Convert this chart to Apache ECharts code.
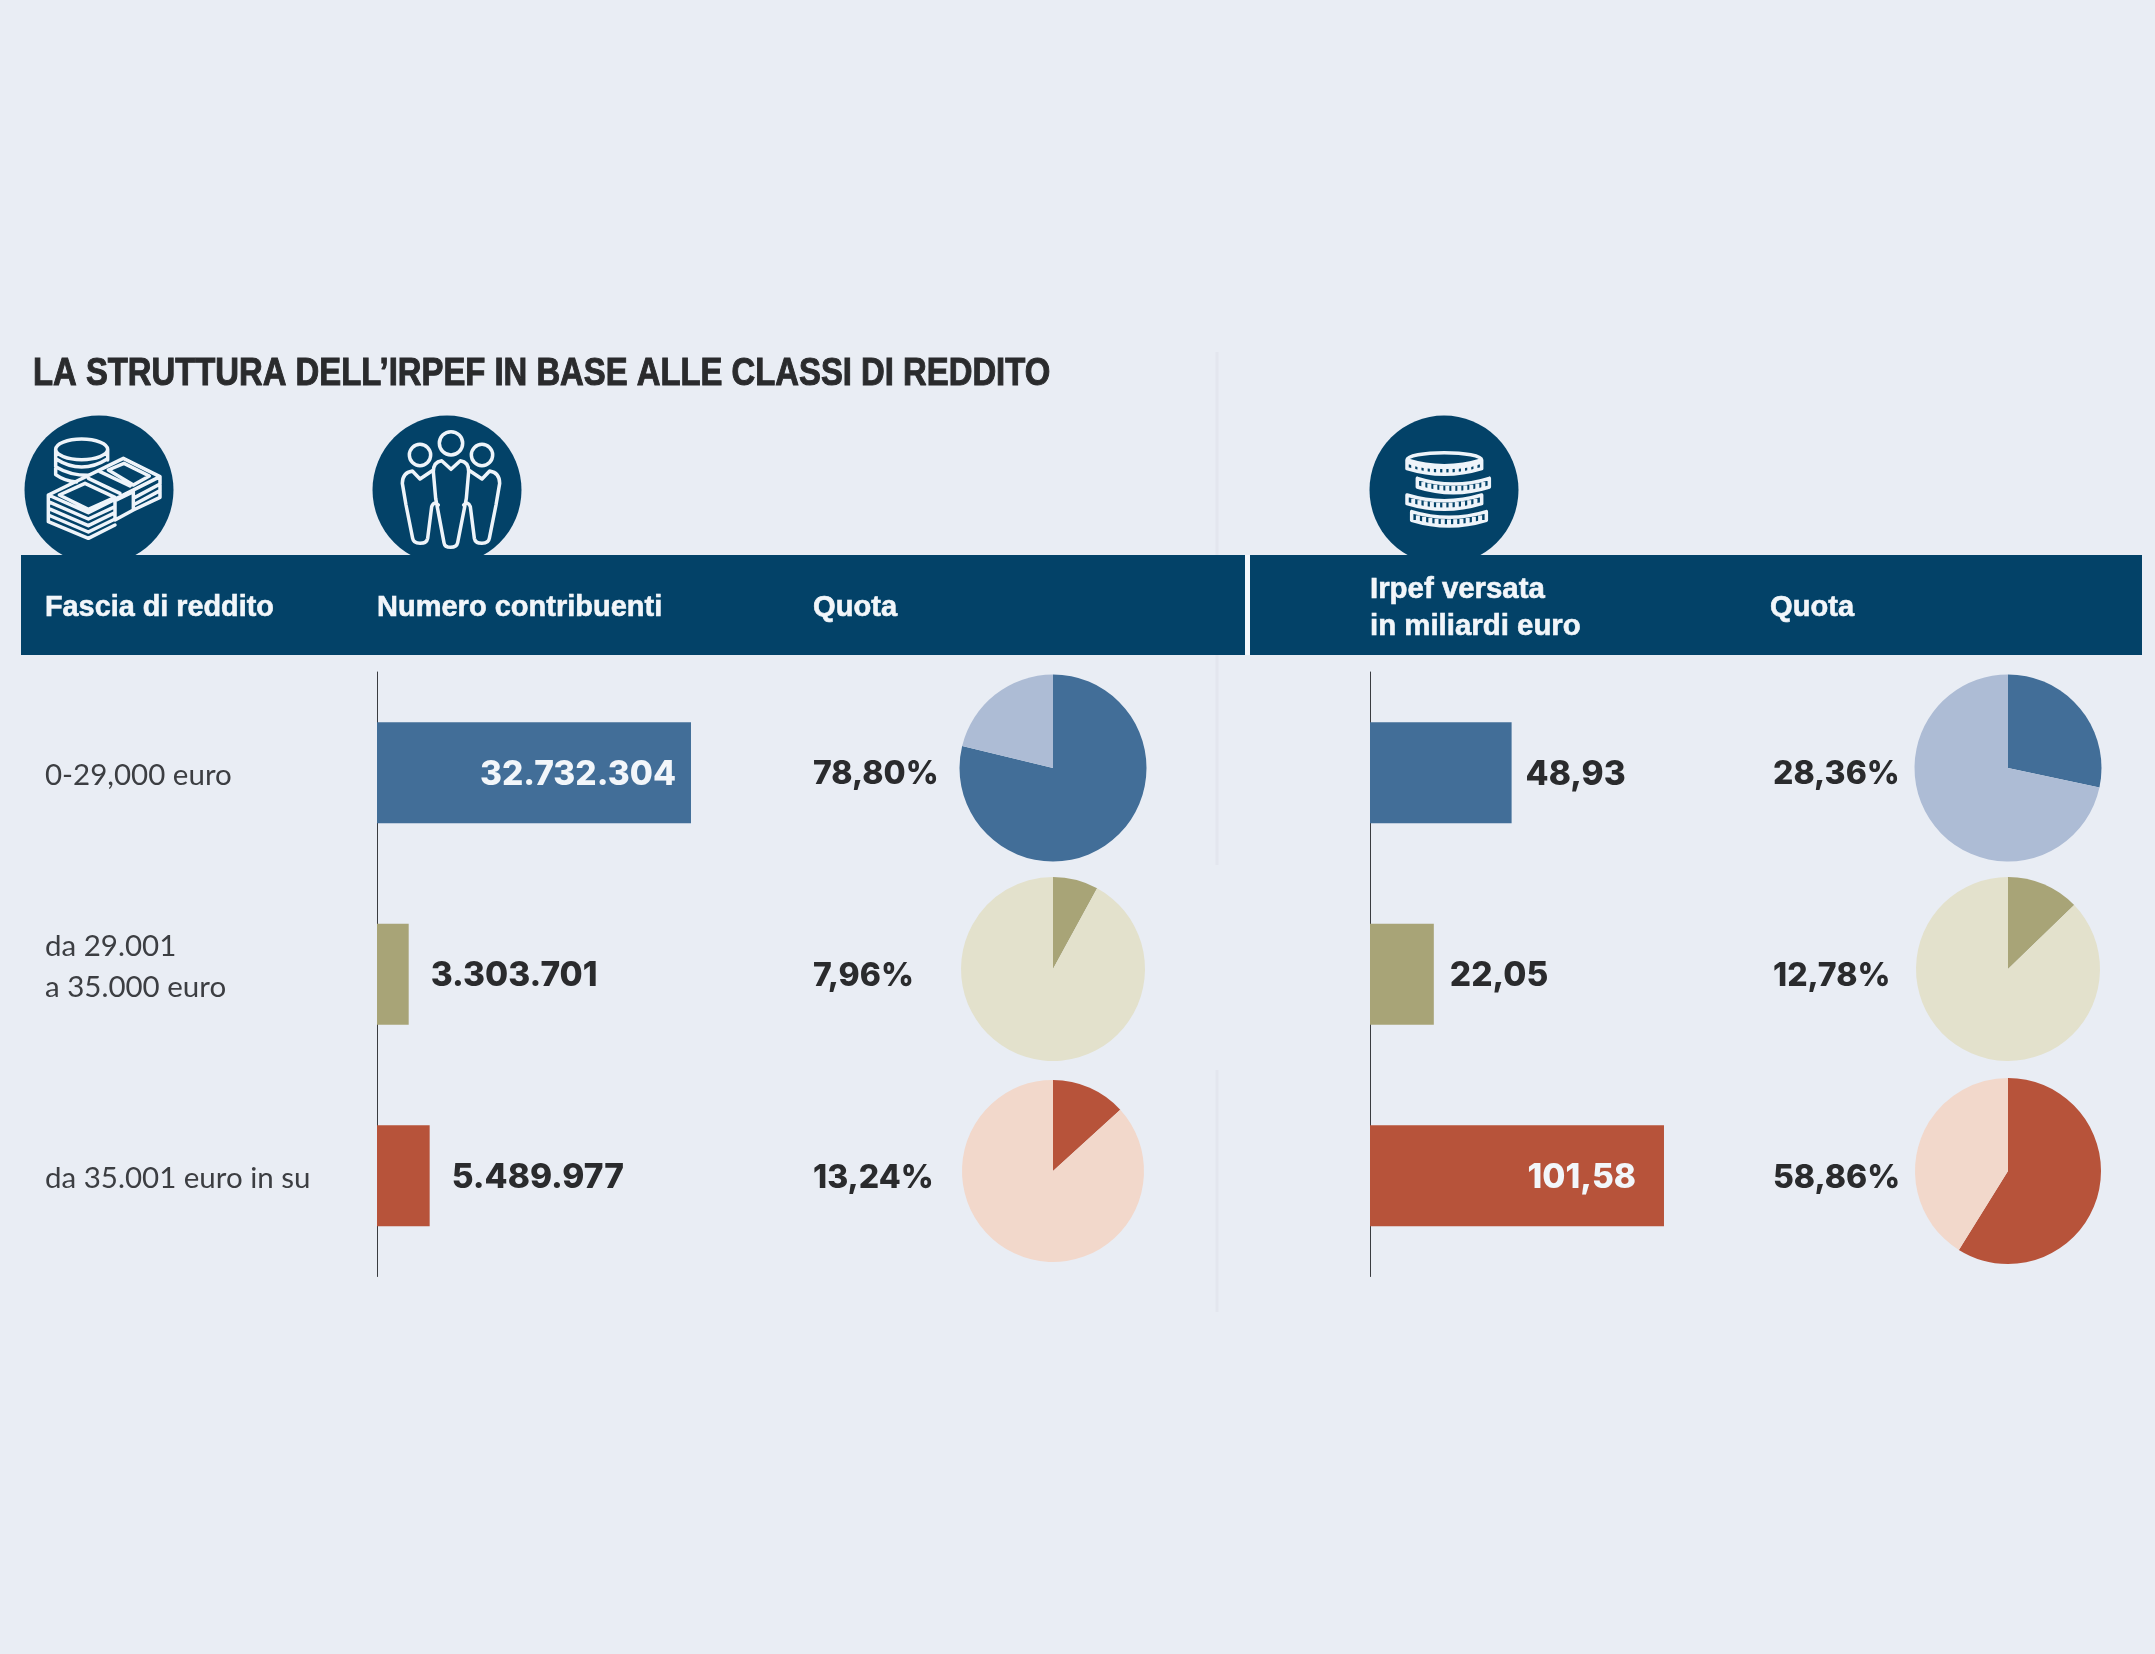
<!DOCTYPE html>
<html>
<head>
<meta charset="utf-8">
<title>Irpef</title>
<script src="https://cdn.jsdelivr.net/npm/echarts@6/dist/echarts.min.js"></script>
<style>
  html, body { margin: 0; padding: 0; background: #e9edf4; }
  #main { width: 2155px; height: 1654px; }
</style>
</head>
<body>
<div id="main"></div>
<script>
var fasce = ["0-29,000 euro", "da 29.001\na 35.000 euro", "da 35.001 euro in su"];
var contribuenti = [32732304, 3303701, 5489977];
var quotaContribuenti = [78.80, 7.96, 13.24];
var restoContribuenti = [21.20, 92.04, 86.76];
var irpef = [48.93, 22.05, 101.58];
var quotaIrpef = [28.36, 12.78, 58.86];
var restoIrpef = [71.64, 87.22, 41.14];

var barColors = ["#426e98", "#a8a477", "#b7533a"];
var lightColors = ["#adbcd5", "#e3e1cc", "#f2d8cb"];

var SANS = '"Liberation Sans", sans-serif';
var HEAVY = 'Inter, "DejaVu Sans", sans-serif';
var DARK = "#2a2b2d";
var NAVY = "#034268";
var PALE = "#f2f6fa";

var chart = echarts.init(document.getElementById("main"));

// y centre of the pies and of the quota labels
var pieY = [768, 969, 1171];
var quotaY = [774, 976, 1178];

function numLabel(position, color, distance) {
  return {
    show: true,
    position: position,
    distance: distance,
    offset: [0, 2],
    color: color,
    fontFamily: HEAVY,
    fontWeight: 800,
    fontSize: 33.5
  };
}

function pieSeries(cx, radii, shares, rests) {
  return shares.map(function (s, i) {
    return {
      type: "pie",
      silent: true,
      center: [cx, pieY[i]],
      radius: radii[i],
      startAngle: 90,
      label: { show: false },
      labelLine: { show: false },
      data: [
        { value: s, itemStyle: { color: barColors[i] } },
        { value: rests[i], itemStyle: { color: lightColors[i] } }
      ]
    };
  });
}

// condensed heading text: no narrow font installed, so squeeze with scaleX
function txt(text, x, y, font, color, scaleX, stroke, lineHeight) {
  return {
    type: "text",
    z: 5,
    x: x,
    y: y,
    scaleX: scaleX,
    style: {
      text: text,
      fill: color,
      stroke: color,
      lineWidth: stroke,
      font: font,
      lineHeight: lineHeight,
      verticalAlign: "middle",
      align: "left"
    }
  };
}

function pct(v) {
  return v.toFixed(2).replace(".", ",") + "%";
}

var billsPath =
  "M107 118 A78 31 0 1 0 263 118 A78 31 0 1 0 107 118 Z " +
  "M107 118 V192 M263 118 V150 " +
  "M107 146 Q185 196 263 146 M107 170 Q150 196 205 196 M107 194 Q135 214 170 216 " +
  "M85 255 L310 145 L420 200 L205 308 Z " +
  "M118 255 L195 220 L285 262 L205 298 Z " +
  "M265 180 L312 160 L388 198 L340 225 Z " +
  "M205 205 L300 250 M240 185 L330 228 " +
  "M285 272 L340 245 L340 300 L285 330 Z " +
  "M85 255 V335 L205 385 L285 345 M340 300 L420 262 V200 " +
  "M85 275 L205 327 L285 290 M85 295 L205 347 L285 308 M85 315 L205 366 L285 327 " +
  "M345 262 L420 222 M345 282 L420 242";

var peoplePath =
  "M208 100 A35 35 0 1 0 278 100 A35 35 0 1 0 208 100 Z " +
  "M118 135 A32 32 0 1 0 182 135 A32 32 0 1 0 118 135 Z " +
  "M304 135 A32 32 0 1 0 368 135 A32 32 0 1 0 304 135 Z " +
  "M243 178 L215 152 Q190 155 190 185 L197 265 L222 398 Q224 412 242 412 Q260 412 263 398 L289 265 L296 185 Q296 155 271 152 Z " +
  "M150 207 L127 183 Q97 188 97 220 L108 285 L128 385 Q130 400 150 400 Q170 400 173 385 L185 290 Q192 272 205 285 " +
  "M150 207 L190 180 " +
  "M336 207 L359 183 Q389 188 389 220 L378 285 L358 385 Q356 400 336 400 Q316 400 313 385 L301 290 Q294 272 281 285 " +
  "M336 207 L296 180";

// cx, top y, half width of each coin in the stack
var coinStack = [
  [238, 150, 112],
  [265, 205, 108],
  [238, 255, 112],
  [252, 305, 112]
];

function coinsPath() {
  var d = "";
  coinStack.forEach(function (c, i) {
    var cx = c[0], y = c[1], rx = c[2], h = 26;
    if (i === 0) {
      d += "M" + (cx - rx) + " " + y + " A" + rx + " 22 0 1 1 " + (cx + rx) + " " + y + " A" + rx + " 22 0 1 1 " + (cx - rx) + " " + y + " ";
    }
    d += "M" + (cx - rx) + " " + y + " V" + (y + h) + " Q" + cx + " " + (y + h + 34) + " " + (cx + rx) + " " + (y + h) + " V" + y + " ";
    d += "M" + (cx - rx) + " " + y + " Q" + cx + " " + (y + 34) + " " + (cx + rx) + " " + y + " ";
  });
  return d;
}

function coinsTicks() {
  var out = [];
  coinStack.forEach(function (c) {
    for (var k = -5; k <= 5; k++) {
      var x = c[0] + k * c[2] / 6;
      var dy = 17 * (1 - (k * k) / 36);
      out.push({
        type: "line",
        z: 3,
        shape: { x1: x, y1: c[1] + dy + 6, x2: x, y2: c[1] + dy + 24 },
        style: { stroke: "#eef4fa", lineWidth: 12 }
      });
    }
  });
  return out;
}

echarts.graphic.registerShape("iconBills", echarts.graphic.extendPath(billsPath, {}));
echarts.graphic.registerShape("iconPeople", echarts.graphic.extendPath(peoplePath, {}));
echarts.graphic.registerShape("iconCoins", echarts.graphic.extendPath(coinsPath(), {}));

// icons are drawn in a 3x box and scaled down
function iconGroup(x, y, shapeName, extra) {
  return {
    type: "group",
    x: x,
    y: y,
    scaleX: 1 / 3,
    scaleY: 1 / 3,
    children: [
      {
        type: shapeName,
        z: 3,
        style: { fill: "none", stroke: "#eef4fa", lineWidth: 10.5, lineJoin: "round", lineCap: "round" }
      }
    ].concat(extra || [])
  };
}

function circle(cx) {
  return {
    type: "circle",
    z: 1,
    shape: { cx: cx, cy: 490, r: 74.5 },
    style: { fill: NAVY }
  };
}

function band(x, width) {
  return {
    type: "rect",
    z: 2,
    shape: { x: x, y: 555, width: width, height: 100 },
    style: { fill: NAVY }
  };
}

// blank spacer lines nudge the labels: single lines down, the two-line one up
function fasciaLabel(value) {
  var lines = value.split("\n");
  var text = lines.map(function (l) { return "{t|" + l + "}"; }).join("\n");
  return lines.length > 1 ? text + "\n{up| }" : "{down| }\n" + text;
}

var HEAD = "bold 30px " + SANS;
var QUOTA = "800 32px " + HEAVY;

var option = {
  animation: false,
  backgroundColor: "#e9edf4",
  grid: [
    { left: 377, top: 672, width: 383.7, height: 604.5, outerBoundsMode: "none" },
    { left: 1370, top: 672, width: 347.3, height: 604.5, outerBoundsMode: "none" }
  ],
  xAxis: [
    { type: "value", gridIndex: 0, min: 0, max: 40000000, show: false },
    { type: "value", gridIndex: 1, min: 0, max: 120, show: false }
  ],
  yAxis: [
    {
      type: "category",
      gridIndex: 0,
      inverse: true,
      data: fasce,
      axisLine: { lineStyle: { color: "#3a3c40", width: 1 } },
      axisTick: { show: false },
      axisLabel: {
        align: "left",
        margin: 332,
        formatter: fasciaLabel,
        rich: {
          t: { color: "#3c3e42", fontFamily: "Lato, sans-serif", fontSize: 29.5, lineHeight: 41 },
          up: { fontSize: 10, lineHeight: 14 },
          down: { fontSize: 6, lineHeight: 6 }
        }
      }
    },
    {
      type: "category",
      gridIndex: 1,
      inverse: true,
      data: fasce,
      axisLine: { lineStyle: { color: "#3a3c40", width: 1 } },
      axisTick: { show: false },
      axisLabel: { show: false }
    }
  ],
  series: [
    {
      type: "bar",
      xAxisIndex: 0,
      yAxisIndex: 0,
      barWidth: 101,
      silent: true,
      itemStyle: { color: function (p) { return barColors[p.dataIndex]; } },
      label: {
        formatter: function (p) { return String(p.value).replace(/\B(?=(\d{3})+$)/g, "."); }
      },
      data: [
        { value: contribuenti[0], label: numLabel("insideRight", PALE, 15) },
        { value: contribuenti[1], label: numLabel("right", DARK, 22) },
        { value: contribuenti[2], label: numLabel("right", DARK, 22) }
      ]
    },
    {
      type: "bar",
      xAxisIndex: 1,
      yAxisIndex: 1,
      barWidth: 101,
      silent: true,
      itemStyle: { color: function (p) { return barColors[p.dataIndex]; } },
      label: {
        formatter: function (p) { return p.value.toFixed(2).replace(".", ","); }
      },
      data: [
        { value: irpef[0], label: numLabel("right", DARK, 14) },
        { value: irpef[1], label: numLabel("right", DARK, 16) },
        { value: irpef[2], label: numLabel("insideRight", PALE, 28) }
      ]
    }
  ]
    .concat(pieSeries(1053, [93.5, 92, 91], quotaContribuenti, restoContribuenti))
    .concat(pieSeries(2008, [93.5, 92, 93], quotaIrpef, restoIrpef)),
  graphic: [
    // faint fold of the page behind the table
    { type: "line", z: 0, shape: { x1: 1217, y1: 352, x2: 1217, y2: 865 }, style: { stroke: "#e3e6ee", lineWidth: 3 } },
    { type: "line", z: 0, shape: { x1: 1217, y1: 1070, x2: 1217, y2: 1312 }, style: { stroke: "#e3e6ee", lineWidth: 3 } },
    circle(99),
    circle(447),
    circle(1444),
    band(21, 1224),
    band(1250, 892),
    { type: "rect", z: 2, shape: { x: 1245, y: 555, width: 5, height: 100 }, style: { fill: "#f5f8fc" } },
    iconGroup(20, 410, "iconBills"),
    iconGroup(370, 410, "iconPeople"),
    iconGroup(1365, 410, "iconCoins", coinsTicks()),
    txt("LA STRUTTURA DELL\u2019IRPEF IN BASE ALLE CLASSI DI REDDITO", 33, 375, "bold 38px " + SANS, DARK, 0.864, 1),
    txt("Fascia di reddito", 45, 608, HEAD, PALE, 0.96, 0.6),
    txt("Numero contribuenti", 377, 608, HEAD, PALE, 0.967, 0.6),
    txt("Quota", 813, 608, HEAD, PALE, 0.97, 0.6),
    txt("Irpef versata\nin miliardi euro", 1370, 608, HEAD, PALE, 0.98, 0.6, 37),
    txt("Quota", 1770, 608, HEAD, PALE, 0.97, 0.6),
    txt(pct(quotaContribuenti[0]), 813, quotaY[0], QUOTA, DARK, 1, 0),
    txt(pct(quotaContribuenti[1]), 813, quotaY[1], QUOTA, DARK, 1, 0),
    txt(pct(quotaContribuenti[2]), 813, quotaY[2], QUOTA, DARK, 1, 0),
    txt(pct(quotaIrpef[0]), 1773, quotaY[0], QUOTA, DARK, 1, 0),
    txt(pct(quotaIrpef[1]), 1773, quotaY[1], QUOTA, DARK, 1, 0),
    txt(pct(quotaIrpef[2]), 1773, quotaY[2], QUOTA, DARK, 1, 0)
  ]
};

chart.setOption(option);
</script>
</body>
</html>
